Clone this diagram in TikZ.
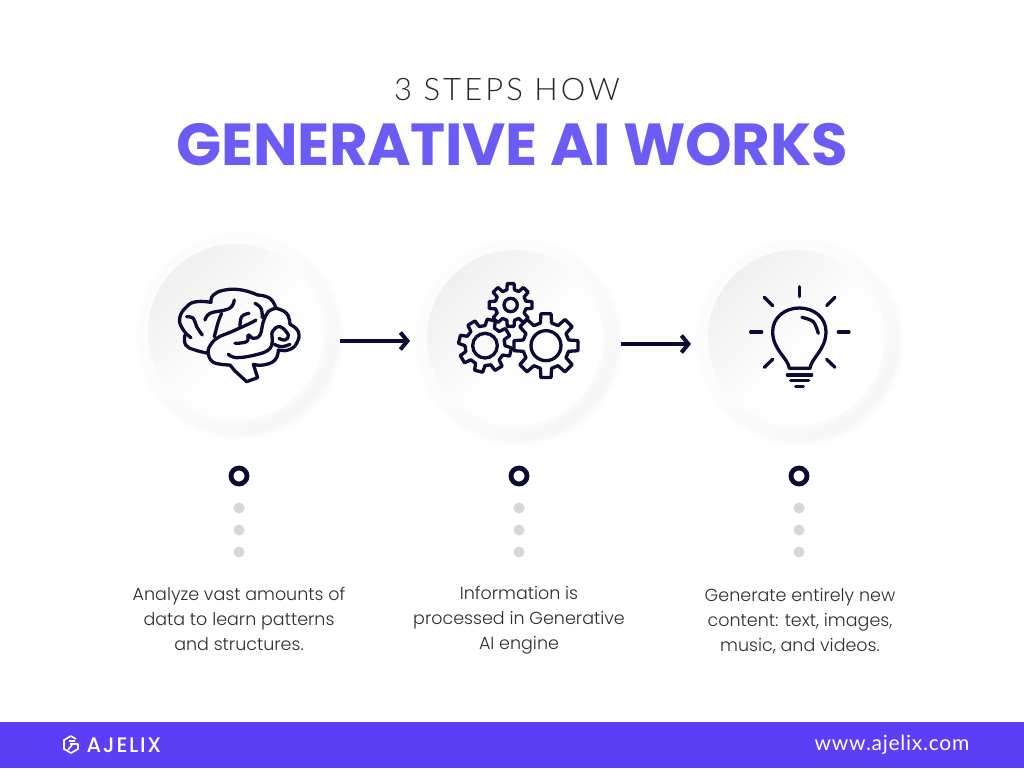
\documentclass[tikz,border=0pt]{standalone}
\usepackage{fontspec}
\usetikzlibrary{arrows.meta}
\setmainfont{Poppins Light}
\newfontfamily\subfont[LetterSpace=10]{Lato Light}
\newfontfamily\titlefont[LetterSpace=-0.5]{Poppins}
\newfontfamily\logofont[LetterSpace=8]{Poppins Medium}
\newfontfamily\urlfont[LetterSpace=3.5]{Lato}
\definecolor{ink}{HTML}{0B0B35}
\definecolor{titleviolet}{HTML}{6A5CF4}
\definecolor{barviolet}{HTML}{5A3FF6}
\definecolor{dotgray}{HTML}{D8D6D6}
\definecolor{bodytext}{HTML}{2E2E2E}
\tikzset{
  disc/.style={circle,minimum size=176pt,inner sep=0pt,top color=black!6,bottom color=white,middle color=black!1,shading angle=45},
  icon/.style={draw=ink,line width=3.3pt,line join=round,line cap=round},
  ring/.style={circle,draw=ink,line width=4.8pt,fill=white,minimum size=16pt,inner sep=0pt},
  dotmark/.style={circle,fill=dotgray,minimum size=11pt,inner sep=0pt},
  flow/.style={draw=ink,line width=4.4pt,-{Straight Barb[length=7pt,width=17pt,line width=4pt]}},
  caption/.style={font=\fontsize{17.5}{25}\selectfont,text=bodytext,align=center,inner sep=0pt},
}
\newcommand{\softdisc}[3]{%
  \foreach \rr in {104,102,...,88}{\fill[black,opacity=0.007] (#1+4,#2+4) circle (\rr);}
  \foreach \rr in {104,101,...,90}{\fill[white,opacity=0.3] (#1-3,#2-3) circle (\rr);}
  \node[disc] (#3) at (#1,#2) {};
}
\newcommand{\gearicon}[7]{%
  \begin{scope}[shift={(#1,#2)}]
  \draw[icon] ({#7-14}:#4) \foreach \i [evaluate=\i as \ang using #7+\i*360/#6] in {0,...,7}
     { -- ({\ang-14}:#4) -- ({\ang-9}:#3) -- ({\ang+9}:#3) -- ({\ang+14}:#4) } -- cycle;
  \draw[icon] (0,0) circle (#5*1pt/3);
  \end{scope}%
}
\begin{document}
\begin{tikzpicture}[x=1pt,y=-1pt]
\useasboundingbox (0,0) rectangle (1024,768);
\fill[white] (0,0) rectangle (1024,768);

\node[inner sep=0pt] (subtitle) at (507,90) {\fontsize{31}{36}\selectfont\subfont\color{black!85}3 STEPS HOW};
\node[inner sep=0pt] (title) at (512,145) {\fontsize{59.3}{64}\selectfont\titlefont\bfseries\color{titleviolet}GENERATIVE AI WORKS};

\softdisc{236}{332}{c1}
\softdisc{515}{338}{c2}
\softdisc{796}{338}{c3}

% brain
\begin{scope}[shift={(175,285)},x=0.3333pt,y=-0.3333pt]
\draw[icon] plot[smooth,tension=0.8] coordinates {(48,158) (25,135) (14,100) (35,65) (65,50) (108,52)};
\draw[icon] plot[smooth,tension=0.8] coordinates {(108,52) (115,30) (150,15) (200,15) (248,30)};
\draw[icon] plot[smooth,tension=0.8] coordinates {(248,30) (285,40) (303,70)};
\draw[icon] plot[smooth,tension=0.8] coordinates {(303,70) (335,85) (345,118)};
\draw[icon] plot[smooth,tension=0.8] coordinates {(345,118) (370,140) (365,175) (340,195) (310,195)};
\draw[icon] plot[smooth,tension=0.8] coordinates {(310,195) (300,225) (265,240) (235,238)};
\draw[icon] (235,238) -- (248,278) -- (215,290) -- (180,258) -- (165,240);
\draw[icon] plot[smooth,tension=0.8] coordinates {(100,205) (115,232) (165,240)};
\draw[icon] plot[smooth,tension=0.8] coordinates {(30,150) (32,180) (60,195) (100,205)};
\draw[icon] plot[smooth,tension=0.7] coordinates {(100,205) (102,188) (125,160) (170,140) (225,115) (243,105)};
\draw[icon] plot[smooth,tension=0.7] coordinates {(303,70) (280,80) (265,110) (255,150) (235,160) (220,150) (215,170) (180,175)};
\draw[icon] plot[smooth,tension=0.7] coordinates {(118,155) (130,110) (140,85)};
\draw[icon] plot[smooth,tension=0.7] coordinates {(90,105) (105,85) (150,75) (170,65) (178,45)};
\draw[icon] plot[smooth,tension=0.7] coordinates {(195,125) (200,95) (222,85)};
\draw[icon] plot[smooth,tension=0.7] coordinates {(35,95) (55,100) (65,125) (82,150)};
\draw[icon] plot[smooth,tension=0.7] coordinates {(160,208) (185,218) (240,210) (280,195) (292,170) (292,140) (315,125) (340,150) (330,165) (312,160)};
\draw[icon] plot[smooth,tension=0.7] coordinates {(298,178) (320,185) (345,178)};
\draw[icon] plot[smooth,tension=0.7] coordinates {(240,55) (258,70) (262,98)};
\end{scope}

% gears
\begin{scope}[shift={(420,250)},x=0.3333pt,y=-0.3333pt]
\gearicon{272}{165}{65}{47}{20}{8}{0}
\gearicon{195}{287}{80}{60}{37}{8}{14}
\gearicon{378}{287}{97}{70}{45}{8}{0}
\end{scope}

% bulb
\begin{scope}[shift={(700,260)},x=0.3333pt,y=-0.3333pt]
\draw[icon] (268,325) .. controls (265,295) and (218,270) .. (218,215)
  .. controls (218,172) and (255,144) .. (298,144)
  .. controls (341,144) and (378,172) .. (378,215)
  .. controls (378,270) and (333,295) .. (330,325) -- cycle;
\draw[icon] plot[smooth] coordinates {(306,172) (340,185) (355,220)};
\draw[icon] (262,345) -- (335,345);
\draw[icon] (272,362) -- (326,362);
\draw[icon] (287,380) -- (310,380);
\draw[icon] (298,80) -- (298,110);
\draw[icon] (193,112) -- (218,137);
\draw[icon] (405,112) -- (380,137);
\draw[icon] (152,216) -- (185,216);
\draw[icon] (415,216) -- (447,216);
\draw[icon] (193,322) -- (218,298);
\draw[icon] (405,322) -- (380,298);
\end{scope}

% arrows
\coordinate (a1s) at (340,341);
\coordinate (a1e) at (410,341);
\coordinate (a2s) at (621,344);
\coordinate (a2e) at (691,344);
\draw[flow] (a1s) -- (a1e);
\draw[flow] (a2s) -- (a2e);

% ring + dots
\foreach \nm/\xx in {a/239,b/519,c/799}{
  \node[ring] (r\nm) at (\xx,476) {};
  \node[dotmark] (d\nm1) at (\xx,508) {};
  \node[dotmark] (d\nm2) at (\xx,530) {};
  \node[dotmark] (d\nm3) at (\xx,552) {};
}

\node[caption] (t1) at (239,619) {Analyze vast amounts of\\data to learn patterns\\and structures.};
\node[caption] (t2) at (519,620) {Information is\\processed in Generative\\AI engine};
\node[caption] (t3) at (800,621) {Generate entirely new\\content: text, images,\\music, and videos.};

% footer
\fill[barviolet] (0,722) rectangle (1024,768);
\node[inner sep=0pt,text=white] (logo) at (124,745) {\fontsize{21}{26}\selectfont\logofont AJELIX};
\draw[white,line width=1.6pt,line join=round] (76,739) -- (71,736) -- (64,740) -- (64,749) -- (71,753) -- (78,749) -- (78,744) -- (70,744);
\draw[white,line width=1.6pt,line join=round] (68,750) -- (72,745) ;
\draw[white,line width=1.6pt,line join=round] (69,741) -- (75,741);
\node[inner sep=0pt,text=white] (url) at (892,745) {\fontsize{21}{24}\selectfont\urlfont www.ajelix.com};
\end{tikzpicture}
\end{document}
